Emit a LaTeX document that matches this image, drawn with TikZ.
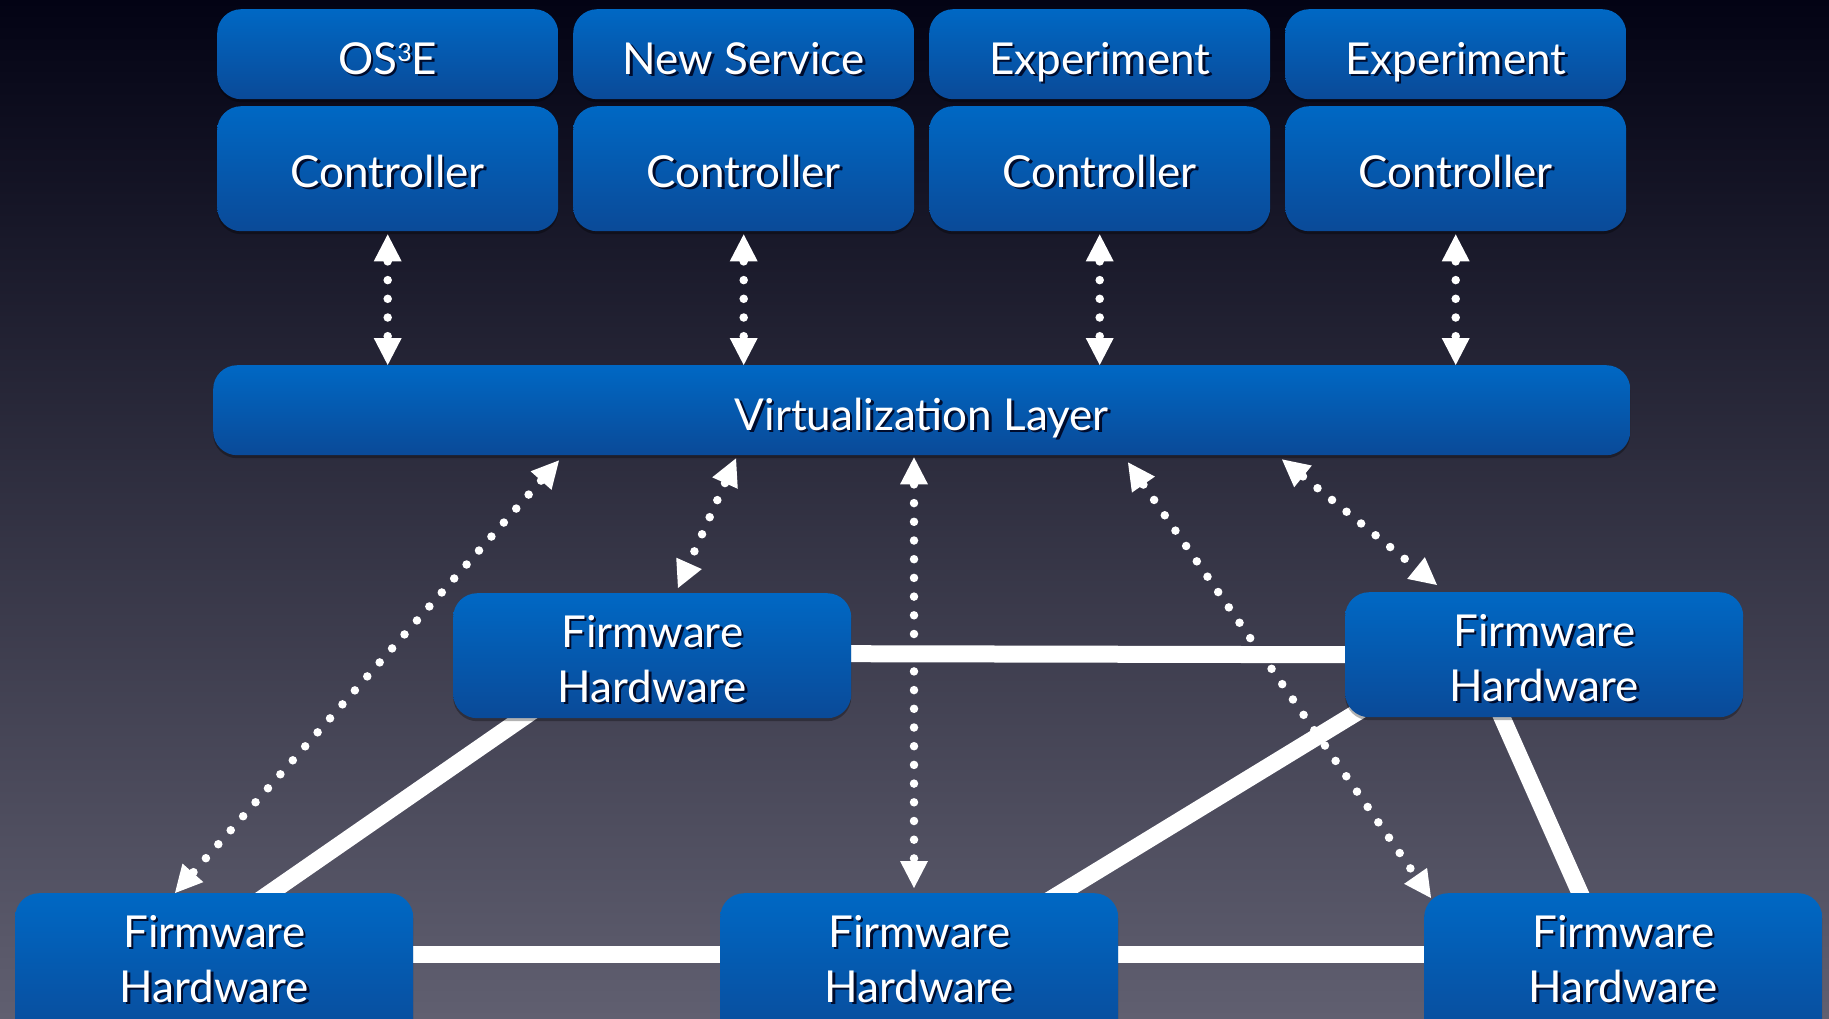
\documentclass[tikz,border=0pt]{standalone}
\usepackage{fontspec}
\setmainfont{Lato}
\usetikzlibrary{arrows.meta,shadows,calc}
\definecolor{bgtop}{RGB}{3,3,20}
\definecolor{bgmid}{RGB}{44,44,67}
\definecolor{bgbot}{RGB}{96,95,112}
\definecolor{boxtop}{RGB}{0,104,196}
\definecolor{boxbot}{RGB}{10,74,152}
\definecolor{txtshadow}{RGB}{0,12,45}
\newcommand\shtxt[1]{\rlap{\kern2.5pt\raisebox{-2.5pt}{\textcolor{txtshadow}{#1}}}#1}
\newcommand\boxfont{\fontsize{44}{55}\selectfont}
\newcommand\supthree{\raisebox{13pt}{\fontsize{25}{25}\selectfont 3}}
\pgfdeclarelayer{bglayer}
\pgfdeclarelayer{linklayer}
\pgfsetlayers{bglayer,linklayer,main}
\begin{document}
\begin{tikzpicture}[x=1pt,y=-1pt,
  box/.style={rounded corners=24pt, top color=boxtop, bottom color=boxbot, text=white,
    inner sep=0pt, minimum height=0pt, anchor=north west, font=\boxfont,
    drop shadow={shadow xshift=0pt,shadow yshift=-3pt,opacity=.3,fill=black}},
  svcbox/.style={box, minimum width=341pt, text height=65pt, text depth=25pt},
  ctrlbox/.style={box, minimum width=341pt, text height=81pt, text depth=44pt},
  virtbox/.style={box, minimum width=1417pt, text height=65pt, text depth=25pt},
  fwbox/.style={box, minimum width=398pt, text height=54pt, text depth=71pt},
  fwlow/.style={fwbox, text depth=101pt},
  link/.style={white, line width=17pt, shorten <=-20pt, shorten >=-20pt},
  dotarrow/.style={white, line width=8.5pt, line cap=round, dash pattern=on 0pt off 18.7pt,
    {Triangle[width=28pt,length=27pt,line width=0pt]}-{Triangle[width=28pt,length=27pt,line width=0pt]}}
]
\useasboundingbox (0,0) rectangle (1829,1018);
\begin{pgfonlayer}{bglayer}
  \shade[top color=bgtop, middle color=bgmid, bottom color=bgbot] (0,0) rectangle (1829,1018);
\end{pgfonlayer}

% service row
\node[svcbox] (s1) at (217,9) {\shtxt{OS\supthree E}};
\node[svcbox] (s2) at (573,9) {\shtxt{New Service}};
\node[svcbox] (s3) at (929,9) {\shtxt{Experiment}};
\node[svcbox] (s4) at (1285,9) {\shtxt{Experiment}};
% controller row
\node[ctrlbox] (c1) at (217,106) {\shtxt{Controller}};
\node[ctrlbox] (c2) at (573,106) {\shtxt{Controller}};
\node[ctrlbox] (c3) at (929,106) {\shtxt{Controller}};
\node[ctrlbox] (c4) at (1285,106) {\shtxt{Controller}};
% virtualization layer
\node[virtbox] (virt) at (213,365) {\shtxt{Virtualization Layer}};
% switches
\node[fwbox] (fwa) at (453,593) {\begin{tabular}[t]{@{}c@{}}\shtxt{Firmware}\\\shtxt{Hardware}\end{tabular}};
\node[fwbox] (fwb) at (1345,592) {\begin{tabular}[t]{@{}c@{}}\shtxt{Firmware}\\\shtxt{Hardware}\end{tabular}};
\node[fwlow] (fwc) at (15,893) {\begin{tabular}[t]{@{}c@{}}\shtxt{Firmware}\\\shtxt{Hardware}\end{tabular}};
\node[fwlow] (fwd) at (720,893) {\begin{tabular}[t]{@{}c@{}}\shtxt{Firmware}\\\shtxt{Hardware}\end{tabular}};
\node[fwlow] (fwe) at (1424,893) {\begin{tabular}[t]{@{}c@{}}\shtxt{Firmware}\\\shtxt{Hardware}\end{tabular}};

% physical links
\begin{pgfonlayer}{linklayer}
  \draw[link] ([yshift=2pt]fwa.east) -- (fwb.west);
  \draw[link] ([xshift=69pt]fwa.south west) -- ([xshift=255pt]fwc.north west);
  \draw[link] ([xshift=12pt,yshift=5pt]fwb.south west) -- ([xshift=341pt]fwd.north west);
  \draw[link] ([xshift=157pt]fwb.south west) -- ([xshift=156pt]fwe.north west);
  \draw[link] ([yshift=-61.5pt]fwc.north east) -- ([yshift=-61.5pt]fwd.north west);
  \draw[link] ([yshift=-61.5pt]fwd.north east) -- ([yshift=-61.5pt]fwe.north west);
\end{pgfonlayer}

% control channels
\foreach \i in {1,...,4}
  \draw[dotarrow] ([yshift=-3pt]c\i.south) -- (c\i.south |- virt.north);
\draw[dotarrow] ([xshift=346pt,yshift=-5pt]virt.south west) -- ([xshift=160pt]fwc.north west);
\draw[dotarrow] ([xshift=523pt,yshift=-3pt]virt.south west) -- ([xshift=225pt,yshift=5pt]fwa.north west);
\draw[dotarrow] ([xshift=701pt,yshift=-2pt]virt.south west) -- ([xshift=194pt,yshift=5pt]fwd.north west);
\draw[dotarrow] ([xshift=915pt,yshift=-7pt]virt.south west) -- ([xshift=7pt,yshift=-5pt]fwe.north west);
\draw[dotarrow] ([xshift=1069pt,yshift=-4pt]virt.south west) -- ([xshift=92pt,yshift=7pt]fwb.north west);
\end{tikzpicture}
\end{document}
